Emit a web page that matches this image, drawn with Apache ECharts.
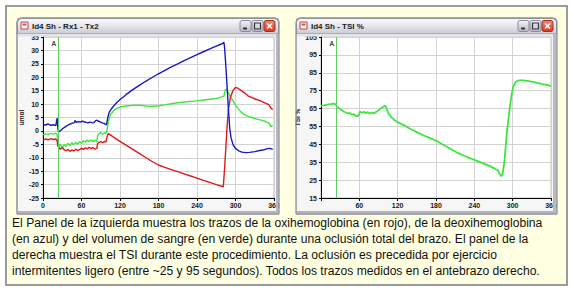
<!DOCTYPE html>
<html><head><meta charset="utf-8">
<script src="https://cdn.jsdelivr.net/npm/echarts@6/dist/echarts.min.js"></script>
<style>html,body{margin:0;padding:0;background:#fff;}#c{width:574px;height:297px;}</style>
</head><body><div id="c"></div>
<script>
// ---------- data ----------
const leftTitle = 'Id4 Sh - Rx1 - Tx2';
const rightTitle = 'Id4 Sh - TSI %';
const xTicks = [0, 60, 120, 180, 240, 300, 360];
const leftYTicks = [-25, -20, -15, -10, -5, 0, 5, 10, 15, 20, 25, 30, 35];
const rightYTicks = [15, 25, 35, 45, 55, 65, 75, 85, 95, 105];
const markerT = 24;
const markerLabel = 'A';
const leftYName = 'umol';
const rightYName = 'TSI %';

// deoxyhemoglobin (blue)
const tBlue = [0,4,8,12,16,20,21,22,23,24,26,28,31,34,37,40,43,46,49,50,52,55,58,61,64,67,70,73,76,79,81,83,86,89,92,95,97,99,101,103,106,110,115,120,130,140,150,160,170,180,190,200,210,220,230,240,250,260,270,276,280,282,283,285,287,289,291,293,296,300,305,310,316,322,330,338,345,350,354,358];
const blue = [2.4,2.2,2.6,2.1,2.3,2.0,3.5,4.8,1.5,-0.4,-0.2,0.3,0.9,1.4,1.9,2.3,2.6,2.9,3.1,3.9,3.2,3.5,3.3,3.6,3.4,3.2,3.0,3.3,3.1,3.0,3.6,4.0,3.7,3.4,3.0,2.8,2.5,2.3,5.0,6.8,8.0,9.3,10.6,11.7,13.6,15.4,17.0,18.5,19.9,21.3,22.6,23.9,25.0,26.2,27.3,28.4,29.5,30.6,31.6,32.2,32.6,33.0,31,24,16,8,1,-2.5,-5,-6.5,-7.4,-7.9,-8.1,-8.0,-7.7,-7.3,-7.0,-6.6,-6.5,-6.9];
// oxyhemoglobin (red)
const tRed = [0,4,8,12,16,20,22,23,25,27,30,33,36,39,42,45,48,51,54,57,60,63,66,69,72,75,78,81,84,85,87,90,93,96,98,100,102,110,120,130,140,150,160,170,180,190,200,210,220,230,240,250,260,270,281,283,285,287,289,292,296,300,303,308,314,320,326,332,338,344,348,352,355,358];
const red = [-3.4,-3.0,-3.3,-2.9,-3.2,-3.0,-3.6,-5.5,-6.3,-6.8,-6.2,-7.0,-7.4,-6.9,-7.6,-7.1,-7.5,-6.8,-7.3,-7.0,-6.4,-6.9,-6.3,-6.7,-6.1,-6.6,-6.2,-6.8,-6.5,-4.8,-4.3,-4.0,-4.4,-3.9,-4.2,-2.0,-1.0,-2.3,-3.9,-5.4,-6.9,-8.4,-9.9,-11.4,-12.7,-13.6,-14.4,-15.2,-16.0,-16.8,-17.6,-18.4,-19.2,-20.0,-20.8,-14,-6,2,8,12.5,15,16.2,16,15.2,14.2,13,12.4,11.8,11.3,10.6,10.2,9.8,8.6,8.0];
// blood volume (green)
const tGreen = [0,4,8,12,16,20,22,23,25,27,30,33,36,39,42,45,48,51,54,57,60,63,66,69,72,75,78,81,84,85,87,90,93,96,98,100,102,105,110,115,120,130,140,150,160,170,180,190,200,210,220,230,240,250,260,270,278,282,284,286,288,291,294,297,300,304,308,313,318,325,332,340,347,352,355,358];
const green = [-1.5,-1.1,-1.4,-0.9,-1.2,-0.8,-1.5,-3.5,-5.8,-5.0,-6.2,-5.1,-5.8,-4.6,-5.5,-4.4,-5.2,-4.3,-4.9,-4.0,-4.6,-3.6,-4.2,-3.4,-4.0,-3.3,-3.9,-3.5,-4.1,-1.8,-1.0,-0.6,-1.2,-0.7,-1.1,0.5,3.5,6.0,7.5,8.4,8.9,9.3,9.5,9.6,9.3,9.2,9.4,9.7,10.1,10.5,10.8,11.0,11.2,11.5,11.8,12.1,12.6,13.0,15.2,15.6,14.8,13.2,12.0,10.8,9.6,8.3,7.2,6.2,5.6,5.0,4.5,4.0,3.5,3.0,1.6,2.0];
// TSI % (right panel)
const tTsi = [0,5,10,15,20,23,25,27,30,33,36,39,42,45,48,51,54,57,59,61,64,67,70,73,76,79,82,86,90,94,98,101,103,106,110,115,120,130,140,150,160,170,182,192,203,214,224,235,245,255,265,272,277,280,282,284,287,291,295,298,301,305,310,316,325,335,345,355,360];
const tsi = [66.5,66.8,67.2,67.5,67.8,67.2,66.0,65.5,64.6,64.0,63.2,62.8,62.2,62.6,61.6,61.9,61.0,60.6,61.2,63.4,62.6,63.2,62.4,63.0,62.2,62.8,62.3,63.0,64.0,65.2,66.2,66.6,64.5,62.0,60.2,58.5,57.4,55.6,53.6,51.8,50.1,48.6,46.7,44.6,42.4,40.2,38.6,37.0,35.6,34.2,32.7,31.4,30.4,28.4,27.2,28.0,35,52,64,72,77.5,80,80.8,80.8,80.3,79.6,78.8,78.1,77.6];

const caption = [
  'El Panel de la izquierda muestra los trazos de la oxihemoglobina (en rojo), de la deoxihemoglobina',
  '(en azul) y del volumen de sangre (en verde) durante una oclusión total del brazo. El panel de la',
  'derecha muestra el TSI durante este procedimiento. La oclusión es precedida por ejercicio',
  'intermitentes ligero (entre ~25 y 95 segundos). Todos los trazos medidos en el antebrazo derecho.'
];

// ---------- build ----------
const zip = (t, v) => t.map((x, i) => [x, v[i]]);
const FONT = 'Liberation Sans';
const YELLOW = '#FFFFE1';
const lblStyle = {fontSize: 7, fontWeight: 'bold', color: '#1a1a1a', fontFamily: FONT};

function xAxisCfg(gi, hideZero) {
  return {
    gridIndex: gi, type: 'value', min: 0, max: 360, interval: 60,
    axisLine: {onZero: false, lineStyle: {color: '#000', width: 1}},
    axisTick: {show: true, length: 3, lineStyle: {color: '#000'}},
    axisLabel: Object.assign({margin: 4, formatter: v => (hideZero && v === 0) ? '' : String(v)}, lblStyle),
    splitLine: {show: true, lineStyle: {color: '#d2d2d2', width: 1}}
  };
}
function yAxisCfg(gi, ticks, name) {
  return {
    gridIndex: gi, type: 'value', min: ticks[0], max: ticks[ticks.length - 1],
    name: name, nameLocation: 'middle', nameRotate: 90, nameGap: 16,
    nameTextStyle: {fontSize: 6.5, fontWeight: 'bold', color: '#1a1a1a', fontFamily: FONT},
    axisLine: {onZero: false, lineStyle: {color: '#000', width: 1}},
    axisTick: {show: true, length: 2, lineStyle: {color: '#000'}, customValues: ticks},
    axisLabel: Object.assign({margin: 4, customValues: ticks}, lblStyle),
    splitLine: {show: true, lineStyle: {color: '#d2d2d2', width: 1}}
  };
}
function lineSeries(gi, data, color, width, withMarker) {
  const s = {
    type: 'line', xAxisIndex: gi, yAxisIndex: gi, data: data, showSymbol: false, symbol: 'none',
    lineStyle: {color: color, width: width}, itemStyle: {color: color}, silent: true, animation: false, z: 3
  };
  if (withMarker) {
    s.markLine = {symbol: 'none', silent: true, animation: false,
      lineStyle: {color: '#5ccf5c', width: 1, type: 'solid'}, label: {show: false},
      data: [{xAxis: markerT}]};
  }
  return s;
}
function markerLabelSeries(gi, yTop) {
  return {
    type: 'scatter', xAxisIndex: gi, yAxisIndex: gi, data: [[markerT, yTop]], symbolSize: 0.1,
    silent: true, animation: false,
    label: {show: true, formatter: markerLabel, position: 'left', distance: 2, offset: [0, 6],
      fontSize: 7, fontWeight: 'bold', color: '#111', fontFamily: FONT}
  };
}

// window chrome
function windowElems(x, y, w, h, title, plotRight) {
  const back = [
    {type: 'rect', z: -5, shape: {x: x, y: y, width: w, height: h, r: [4, 4, 0, 0]},
      style: {fill: '#f6f6f6', stroke: '#8f8f9c', lineWidth: 1}}
  ];
  const front = [
    {type: 'rect', z: 20, shape: {x: x + 0.5, y: y + 0.5, width: w - 1, height: 15.5, r: [4, 4, 0, 0]},
      style: {fill: new echarts.graphic.LinearGradient(0, 0, 0, 1, [
        {offset: 0, color: '#fbfbfd'}, {offset: 0.5, color: '#e4e4ea'}, {offset: 1, color: '#c9c9d2'}]),
        stroke: '#8f8f9c', lineWidth: 1}},
    {type: 'rect', z: 20, shape: {x: x + 0.5, y: y + 16, width: w - 1, height: 2.6}, style: {fill: '#e4e4e8'}},
    {type: 'rect', z: 20, shape: {x: x + 0.5, y: y + h - 3, width: w - 1, height: 3}, style: {fill: '#b4b4bc'}},
    {type: 'rect', z: 20, shape: {x: plotRight + 2, y: y + 16, width: x + w - plotRight - 2.5, height: h - 16}, style: {fill: '#b9b9c0'}},
    {type: 'rect', z: 21, shape: {x: x, y: y, width: w, height: h, r: [4, 4, 0, 0]},
      style: {fill: 'none', stroke: '#8f8f9c', lineWidth: 1}},
    {type: 'rect', z: 22, shape: {x: x + 4, y: y + 4, width: 7, height: 7}, style: {fill: '#fff', stroke: '#c04040', lineWidth: 1}},
    {type: 'rect', z: 22, shape: {x: x + 5.5, y: y + 5.5, width: 4, height: 2}, style: {fill: '#d05050'}},
    {type: 'text', z: 22, x: x + 15, y: y + 8.5, style: {text: title, fontSize: 8, fontWeight: 'bold',
      fontFamily: FONT, fill: '#1a1a2a', textVerticalAlign: 'middle'}},
  ];
  const bw = 11, by = y + 2.5;
  const bx = [x + w - 39, x + w - 27, x + w - 15];
  ['min', 'max', 'close'].forEach((k, i) => {
    const isClose = k === 'close';
    front.push({type: 'rect', z: 22, shape: {x: bx[i], y: by, width: bw, height: bw, r: 2},
      style: {fill: isClose ? new echarts.graphic.LinearGradient(0, 0, 0, 1, [{offset: 0, color: '#f08a70'}, {offset: 1, color: '#d03a24'}])
                            : new echarts.graphic.LinearGradient(0, 0, 0, 1, [{offset: 0, color: '#f4f4f8'}, {offset: 1, color: '#b8b8c8'}]),
        stroke: isClose ? '#a03020' : '#8a8a9a', lineWidth: 1}});
    if (k === 'min') front.push({type: 'rect', z: 23, shape: {x: bx[i] + 3, y: by + 7, width: 4, height: 2}, style: {fill: '#333'}});
    if (k === 'max') front.push({type: 'rect', z: 23, shape: {x: bx[i] + 2.5, y: by + 2.5, width: 6, height: 6}, style: {fill: 'none', stroke: '#333', lineWidth: 1.2}});
    if (k === 'close') {
      front.push({type: 'line', z: 23, shape: {x1: bx[i] + 3, y1: by + 3, x2: bx[i] + 8, y2: by + 8}, style: {stroke: '#fff', lineWidth: 1.6}});
      front.push({type: 'line', z: 23, shape: {x1: bx[i] + 8, y1: by + 3, x2: bx[i] + 3, y2: by + 8}, style: {stroke: '#fff', lineWidth: 1.6}});
    }
  });
  return {back, front};
}

const W1 = windowElems(17, 18, 262, 196, leftTitle, 274);
const W2 = windowElems(296, 18, 261, 196, rightTitle, 551);

const graphics = [
  {type: 'rect', z: -10, shape: {x: 6, y: 6, width: 561, height: 279}, style: {fill: YELLOW, stroke: '#9a9a9a', lineWidth: 2}},
  ...W1.back, ...W2.back,
  {type: 'rect', z: 19, shape: {x: 279.5, y: 17, width: 16, height: 198}, style: {fill: YELLOW}},
  {type: 'rect', z: 19, shape: {x: 557.5, y: 17, width: 8.5, height: 198}, style: {fill: YELLOW}},
  ...W1.front, ...W2.front
];
caption.forEach((line, i) => {
  graphics.push({type: 'text', z: 5, x: 12, y: 223 + i * 16, style: {text: line, fontSize: 12,
    fontFamily: FONT, fill: '#111', textVerticalAlign: 'middle'}, scaleX: 1.01});
});

const option = {
  animation: false,
  backgroundColor: '#ffffff',
  grid: [
    {left: 43, top: 37, width: 231, height: 161, show: true, backgroundColor: '#fff', borderColor: '#c0c0c0', borderWidth: 1},
    {left: 321, top: 37, width: 230, height: 161, show: true, backgroundColor: '#fff', borderColor: '#c0c0c0', borderWidth: 1}
  ],
  xAxis: [xAxisCfg(0, false), xAxisCfg(1, true)],
  yAxis: [yAxisCfg(0, leftYTicks, leftYName), yAxisCfg(1, rightYTicks, rightYName)],
  series: [
    lineSeries(0, zip(tGreen, green), '#3ee63e', 1.4, true),
    lineSeries(0, zip(tRed, red), '#e01818', 1.4, false),
    lineSeries(0, zip(tBlue, blue), '#1818c8', 1.4, false),
    markerLabelSeries(0, leftYTicks[leftYTicks.length - 1]),
    lineSeries(1, zip(tTsi, tsi), '#3ee63e', 1.8, true),
    markerLabelSeries(1, rightYTicks[rightYTicks.length - 1])
  ],
  graphic: graphics
};
const chart = echarts.init(document.getElementById('c'), null, {renderer: 'svg', width: 574, height: 297});
chart.setOption(option);
</script>
</body></html>
